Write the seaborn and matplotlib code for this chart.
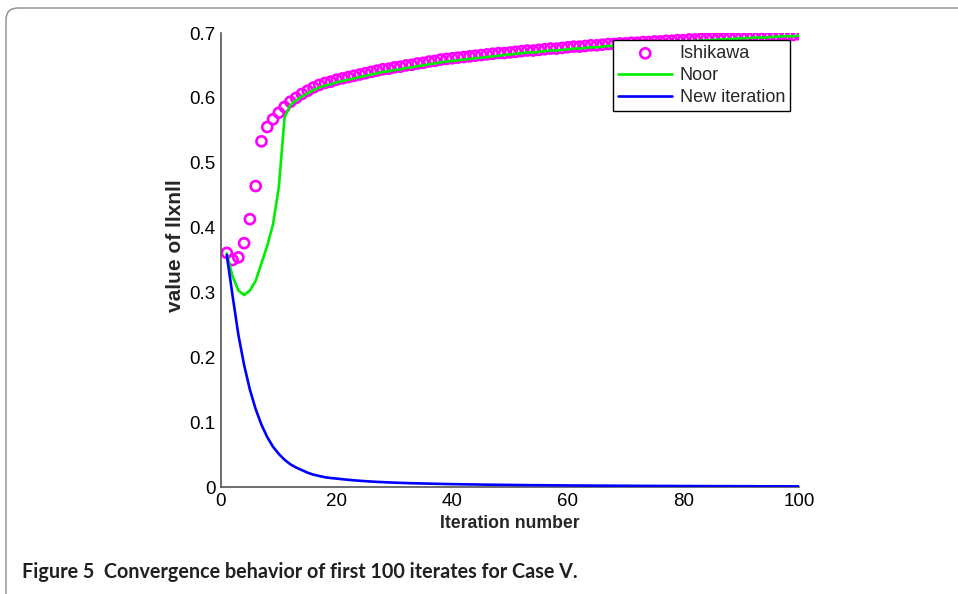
import matplotlib
matplotlib.use("Agg")
import matplotlib.pyplot as plt
from matplotlib.patches import FancyBboxPatch
import numpy as np
import pandas as pd
import seaborn as sns

iterations = list(range(1, 101))

ishikawa = [
    0.361, 0.350, 0.354, 0.376, 0.413, 0.464, 0.533, 0.555, 0.567, 0.577,
    0.586, 0.594, 0.600, 0.606, 0.611, 0.616, 0.620, 0.623, 0.625, 0.628,
    0.630, 0.632, 0.634, 0.636, 0.638, 0.640, 0.642, 0.644, 0.645, 0.647,
    0.648, 0.650, 0.651, 0.653, 0.654, 0.656, 0.657, 0.659, 0.660, 0.661,
    0.662, 0.663, 0.664, 0.665, 0.666, 0.667, 0.668, 0.669, 0.669, 0.670,
    0.671, 0.672, 0.673, 0.673, 0.674, 0.675, 0.676, 0.676, 0.677, 0.678,
    0.679, 0.679, 0.680, 0.681, 0.681, 0.682, 0.683, 0.683, 0.684, 0.684,
    0.685, 0.685, 0.686, 0.686, 0.687, 0.687, 0.688, 0.688, 0.689, 0.689,
    0.690, 0.690, 0.691, 0.691, 0.692, 0.692, 0.692, 0.693, 0.693, 0.694,
    0.694, 0.695, 0.695, 0.695, 0.696, 0.696, 0.697, 0.697, 0.697, 0.698,
]

noor = [
    0.360, 0.325, 0.303, 0.296, 0.303, 0.318, 0.345, 0.372, 0.405, 0.462,
    0.570, 0.589, 0.596, 0.602, 0.607, 0.612, 0.616, 0.619, 0.621, 0.624,
    0.626, 0.628, 0.630, 0.632, 0.634, 0.636, 0.638, 0.640, 0.641, 0.643,
    0.644, 0.646, 0.647, 0.649, 0.650, 0.652, 0.653, 0.655, 0.656, 0.657,
    0.658, 0.659, 0.660, 0.661, 0.662, 0.663, 0.664, 0.665, 0.666, 0.667,
    0.668, 0.669, 0.670, 0.670, 0.671, 0.672, 0.673, 0.673, 0.674, 0.675,
    0.676, 0.676, 0.677, 0.678, 0.678, 0.679, 0.680, 0.680, 0.681, 0.681,
    0.682, 0.683, 0.683, 0.684, 0.684, 0.685, 0.685, 0.686, 0.686, 0.687,
    0.687, 0.688, 0.688, 0.689, 0.689, 0.690, 0.690, 0.691, 0.691, 0.692,
    0.692, 0.693, 0.693, 0.693, 0.694, 0.694, 0.695, 0.695, 0.695, 0.696,
]

new_iteration = [
    0.358, 0.295, 0.235, 0.188, 0.150, 0.120, 0.096, 0.077, 0.062, 0.051,
    0.042, 0.035, 0.030, 0.026, 0.022, 0.019, 0.017, 0.015, 0.0138, 0.0130,
    0.0120, 0.0111, 0.0103, 0.0096, 0.0090, 0.0084, 0.0079, 0.0075, 0.0071, 0.0067,
    0.0064, 0.0061, 0.0058, 0.0056, 0.0054, 0.0052, 0.0050, 0.0048, 0.0046, 0.0044,
    0.0043, 0.0041, 0.0040, 0.0039, 0.0037, 0.0036, 0.0035, 0.0034, 0.0033, 0.0032,
    0.0031, 0.0030, 0.0029, 0.0028, 0.0028, 0.0027, 0.0026, 0.0025, 0.0025, 0.0024,
    0.0023, 0.0023, 0.0022, 0.0022, 0.0021, 0.0021, 0.0020, 0.0020, 0.0019, 0.0019,
    0.0018, 0.0018, 0.0017, 0.0017, 0.0017, 0.0016, 0.0016, 0.0016, 0.0015, 0.0015,
    0.0015, 0.0014, 0.0014, 0.0014, 0.0013, 0.0013, 0.0013, 0.0013, 0.0012, 0.0012,
    0.0012, 0.0012, 0.0011, 0.0011, 0.0011, 0.0011, 0.0010, 0.0010, 0.0010, 0.0010,
]

x_ticks = [0, 20, 40, 60, 80, 100]
y_ticks = [0, 0.1, 0.2, 0.3, 0.4, 0.5, 0.6, 0.7]
y_tick_labels = ["0", "0.1", "0.2", "0.3", "0.4", "0.5", "0.6", "0.7"]
x_label = "Iteration number"
y_label = "value of llxnll"
caption = "Figure 5  Convergence behavior of first 100 iterates for Case V."

df = pd.DataFrame({"iter": iterations, "Ishikawa": ishikawa,
                   "Noor": noor, "New iteration": new_iteration})

sns.set_style("white")
plt.rcParams["font.family"] = ["Liberation Sans", "DejaVu Sans"]

fig = plt.figure(figsize=(9.58, 5.94), dpi=100)

# rounded frame around the figure panel (open past right/bottom edges)
frame = FancyBboxPatch((0.06, -0.5), 10.0, 5.86 + 0.5,
                       boxstyle="round,pad=0,rounding_size=0.12",
                       transform=fig.dpi_scale_trans, fill=False,
                       edgecolor="#8a8a8a", linewidth=1.0)
fig.patches.append(frame)

ax = fig.add_axes([221 / 958, 1 - 487 / 594, (799 - 221) / 958, (487 - 33) / 594])

sns.scatterplot(data=df, x="iter", y="Ishikawa", ax=ax, marker="o",
                s=52, facecolors="none", edgecolor="#ff00ff",
                linewidth=1.9, color="#ff00ff", label="Ishikawa", zorder=2)
sns.lineplot(data=df, x="iter", y="Noor", ax=ax, color="#00ee00",
             linewidth=1.9, label="Noor", zorder=3)
sns.lineplot(data=df, x="iter", y="New iteration", ax=ax, color="#0000ff",
             linewidth=1.9, label="New iteration", zorder=4)

ax.set_xlim(0, 100)
ax.set_ylim(0, 0.7)
ax.set_xticks(x_ticks)
ax.set_yticks(y_ticks)
ax.set_yticklabels(y_tick_labels)
ax.tick_params(direction="in", length=5, width=1, colors="#444444",
               labelcolor="black", labelsize=13.5, pad=4)
ax.set_xlabel(x_label, fontsize=12.7, fontweight="bold", labelpad=1)
ax.set_ylabel(y_label, fontsize=15, fontweight="bold")
ax.yaxis.set_label_coords(-0.078, (487 - 246) / 454)
ax.xaxis.set_label_coords(0.5, -(523 - 487) / 454)
ax.xaxis.label.set_va("center")
ax.yaxis.label.set_va("center")
for side in ["top", "right"]:
    ax.spines[side].set_visible(False)
for side in ["left", "bottom"]:
    ax.spines[side].set_color("#555555")
    ax.spines[side].set_linewidth(1.2)
ax.set_facecolor("white")
ax.patch.set_alpha(0)

leg = ax.legend(loc="upper right", bbox_to_anchor=((790 - 221) / 578, (487 - 40) / 454),
                fontsize=13, frameon=True, fancybox=False, framealpha=1,
                edgecolor="black", borderpad=0.28, labelspacing=0.28,
                handlelength=3.0, handletextpad=0.4, borderaxespad=0)
leg.get_frame().set_linewidth(1.0)

fig.text(22 / 958, 1 - 578 / 594, caption, fontsize=14.2, fontweight="bold",
         family=["Lato", "DejaVu Sans"], va="baseline", ha="left",
         color="#231f20")

fig.savefig("out.png", dpi=100)
